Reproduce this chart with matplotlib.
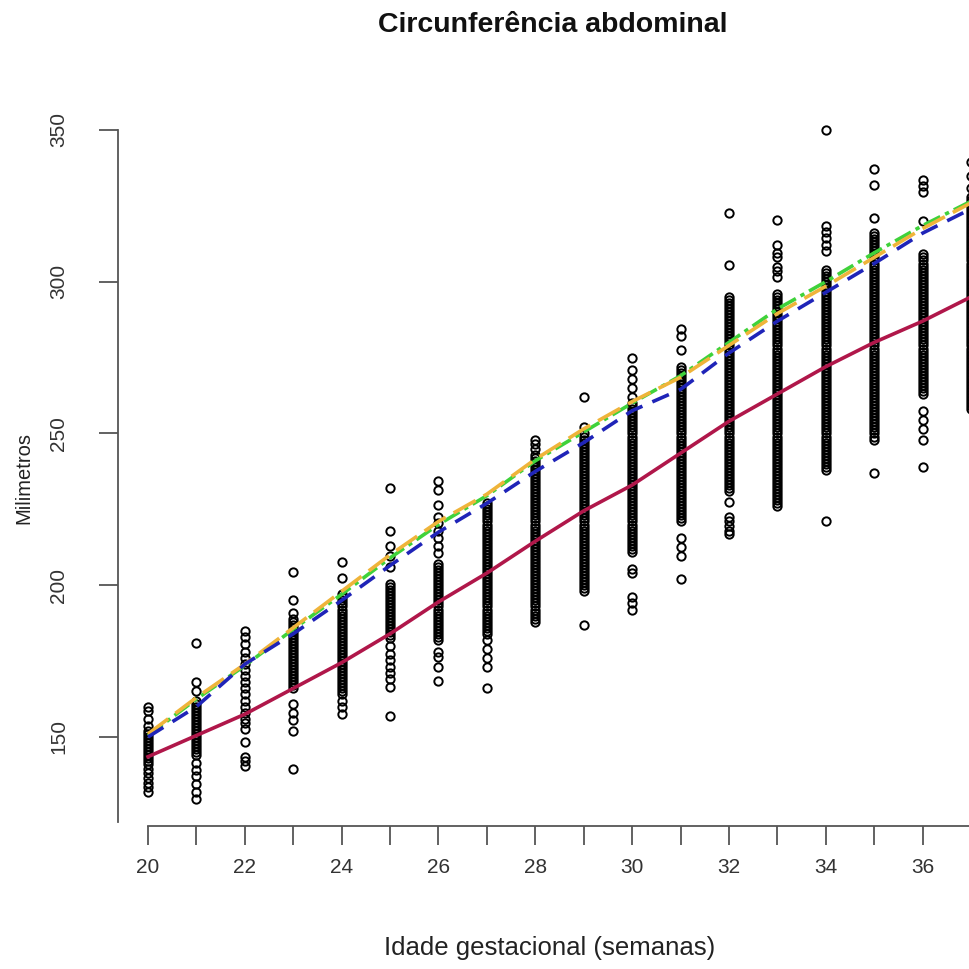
import numpy as np
import matplotlib.pyplot as plt

plt.rcParams['font.family'] = ['Liberation Sans', 'DejaVu Sans']

# observed abdominal circumference (mm) per gestational week
w20 = [160, 158.5, 156, 153.5, 152, 151, 150, 149, 148, 147, 146, 145, 144, 143, 142, 141, 139.5, 138, 136.5, 135, 133.5, 132]
w21 = [181, 168, 165, 162, 161, 160, 159, 158, 157, 156, 155, 154, 153, 152, 151, 150, 149, 148, 147, 146, 145, 144,
       141.5, 139, 137, 134.5, 132, 129.5]
w22 = [185, 183, 180.5, 178, 176, 174, 172, 170, 168, 166, 164, 162, 160, 158, 156, 154.5, 152.5, 148.5, 143.5, 142, 140.5]
w23 = [204.5, 195, 191, 189, 188, 187, 186, 185, 184, 183, 182, 181, 180, 179, 178, 177, 176, 175, 174, 173, 172, 171,
       170, 169, 168, 167, 166, 161, 158, 155.5, 152, 139.5]
w24 = [207.5, 202.5, 197, 196, 195, 194, 193, 192, 191, 190, 189, 188, 187, 186, 185, 184, 183, 182, 181, 180, 179, 178,
       177, 176, 175, 174, 173, 172, 171, 170, 169, 168, 167, 166, 165, 164, 162, 160, 157.5]
w25 = [232, 218, 213, 209.5, 206, 200.5, 199.5, 198.5, 197.5, 196.5, 195.5, 194.5, 193.5, 192.5, 191.5, 190.5, 189.5,
       188.5, 187.5, 186.5, 185.5, 184.5, 183.5, 182.5, 180, 177.5, 175.5, 173, 171, 169, 166.5, 157]
w26 = [234.5, 231.5, 226.5, 222.5, 220.5, 218, 215.5, 213, 210.5, 207, 206, 205, 204, 203, 202, 201, 200, 199, 198,
       197, 196, 195, 194, 193, 192, 191, 190, 189, 188, 187, 186, 185, 184, 183, 182, 178, 176.5, 173, 168.5]
w27 = [227, 226, 225, 224, 223, 222, 221, 220, 219, 218, 217, 216, 215, 214, 213, 212, 211, 210, 209, 208, 207, 206,
       205, 204, 203, 202, 201, 200, 199, 198, 197, 196, 195, 194, 193, 192, 191, 190, 189, 188, 187, 186, 185, 184,
       182, 179, 176, 173, 166]
w28 = [248, 246.5, 245, 243, 242, 241, 240, 239, 238, 237, 236, 235, 234, 233, 232, 231, 230, 229, 228, 227, 226, 225,
       224, 223, 222, 221, 220, 219, 218, 217, 216, 215, 214, 213, 212, 211, 210, 209, 208, 207, 206, 205, 204, 203,
       202, 201, 200, 199, 198, 197, 196, 195, 194, 193, 192, 191, 190, 189, 188]
w29 = [262, 252, 250, 249, 248, 247, 246, 245, 244, 243, 242, 241, 240, 239, 238, 237, 236, 235, 234, 233, 232, 231,
       230, 229, 228, 227, 226, 225, 224, 223, 222, 221, 220, 219, 218, 217, 216, 215, 214, 213, 212, 211, 210, 209,
       208, 207, 206, 205, 204, 203, 202, 201, 200, 199, 198, 187]
w30 = [275, 271, 268, 265, 262, 260, 259, 258, 257, 256, 255, 254, 253, 252, 251, 250, 249, 248, 247, 246, 245, 244,
       243, 242, 241, 240, 239, 238, 237, 236, 235, 234, 233, 232, 231, 230, 229, 228, 227, 226, 225, 224, 223, 222,
       221, 220, 219, 218, 217, 216, 215, 214, 213, 212, 211, 205.5, 204, 196, 194, 192]
w31 = [284.5, 282, 277.5, 272, 271, 270, 269, 268, 267, 266, 265, 264, 263, 262, 261, 260, 259, 258, 257, 256, 255,
       254, 253, 252, 251, 250, 249, 248, 247, 246, 245, 244, 243, 242, 241, 240, 239, 238, 237, 236, 235, 234, 233,
       232, 231, 230, 229, 228, 227, 226, 225, 224, 223, 222, 221, 215.5, 212.5, 209.5, 202]
w32 = [322.5, 305.5, 295, 294, 293, 292, 291, 290, 289, 288, 287, 286, 285, 284, 283, 282, 281, 280, 279, 278, 277,
       276, 275, 274, 273, 272, 271, 270, 269, 268, 267, 266, 265, 264, 263, 262, 261, 260, 259, 258, 257, 256, 255,
       254, 253, 252, 251, 250, 249, 248, 247, 246, 245, 244, 243, 242, 241, 240, 239, 238, 237, 236, 235, 234, 233,
       232, 231, 227.5, 222.5, 221, 219.5, 218, 217]
w33 = [320.5, 312, 309.5, 308, 305, 303.5, 301.5, 296, 295, 294, 293, 292, 291, 290, 289, 288, 287, 286, 285, 284,
       283, 282, 281, 280, 279, 278, 277, 276, 275, 274, 273, 272, 271, 270, 269, 268, 267, 266, 265, 264, 263, 262,
       261, 260, 259, 258, 257, 256, 255, 254, 253, 252, 251, 250, 249, 248, 247, 246, 245, 244, 243, 242, 241, 240,
       239, 238, 237, 236, 235, 234, 233, 232, 231, 230, 229, 228, 227, 226]
w34 = [350, 318.5, 316.5, 314.5, 312, 310, 304, 303, 302, 301, 300, 299, 298, 297, 296, 295, 294, 293, 292, 291, 290,
       289, 288, 287, 286, 285, 284, 283, 282, 281, 280, 279, 278, 277, 276, 275, 274, 273, 272, 271, 270, 269, 268,
       267, 266, 265, 264, 263, 262, 261, 260, 259, 258, 257, 256, 255, 254, 253, 252, 251, 250, 249, 248, 247, 246,
       245, 244, 243, 242, 241, 240, 239, 238, 221]
w35 = [337, 332, 321, 316, 315, 314, 313, 312, 311, 310, 309, 308, 307, 306, 305, 304, 303, 302, 301, 300, 299, 298,
       297, 296, 295, 294, 293, 292, 291, 290, 289, 288, 287, 286, 285, 284, 283, 282, 281, 280, 279, 278, 277, 276,
       275, 274, 273, 272, 271, 270, 269, 268, 267, 266, 265, 264, 263, 262, 261, 260, 259, 258, 257, 256, 255, 254,
       253, 252, 251, 250, 249, 248, 237]
w36 = [333.5, 331.5, 329.5, 320, 309, 308, 307, 306, 305, 304, 303, 302, 301, 300, 299, 298, 297, 296, 295, 294, 293,
       292, 291, 290, 289, 288, 287, 286, 285, 284, 283, 282, 281, 280, 279, 278, 277, 276, 275, 274, 273, 272, 271,
       270, 269, 268, 267, 266, 265, 264, 263, 257.5, 254.5, 251.5, 248, 239]
w37 = [339.5, 335, 331, 328, 327, 326, 325, 324, 323, 322, 321, 320, 319, 318, 317, 316, 315, 314, 313, 312, 311, 310,
       309, 308, 307, 306, 305, 304, 303, 302, 301, 300, 299, 298, 297, 296, 295, 294, 293, 292, 291, 290, 289, 288,
       287, 286, 285, 284, 283, 282, 281, 280, 279, 278, 277, 276, 275, 274, 273, 272, 271, 270, 269, 268, 267, 266,
       265, 264, 263, 262, 261, 260, 259, 258]

semanas = [20, 21, 22, 23, 24, 25, 26, 27, 28, 29, 30, 31, 32, 33, 34, 35, 36, 37]
obs = [w20, w21, w22, w23, w24, w25, w26, w27, w28, w29, w30, w31, w32, w33, w34, w35, w36, w37]

# fitted curves
curva_vermelha = [143.5, 150.5, 157.5, 166, 174.5, 184, 194.5, 204, 214.5, 224.5, 233, 243.5, 254, 263, 272, 280, 287, 295]
curva_verde = [150.5, 162.5, 173.5, 185.5, 197, 209, 220, 229.5, 241, 250.5, 260, 269, 280, 291, 300, 309.5, 318.5, 326.5]
curva_laranja = [151, 163, 174, 186, 198, 210, 221, 230, 241.5, 251.5, 260.5, 268.5, 279, 289.5, 298.5, 308, 317.5, 326]
curva_azul = [150, 160, 174, 184, 195, 206.5, 217.5, 227, 237.5, 247, 257.5, 264.5, 276.5, 287, 296.5, 306, 316, 324]

W, H = 970, 969
fig = plt.figure(figsize=(W / 100, H / 100), dpi=100)
# axes runs past the right edge of the picture, like the cropped original
ax = fig.add_axes([118 / W, (H - 826) / H, 882 / W, 726 / H])

xs = np.concatenate([[s] * len(v) for s, v in zip(semanas, obs)])
ys = np.concatenate(obs)
ax.plot(xs, ys, 'o', ms=6, mfc='none', mec='black', mew=1.4, clip_on=False)

ax.plot(semanas, curva_vermelha, color='#b0174a', lw=2.6)
ax.plot(semanas, curva_verde, color='#3fd23a', lw=2.6, dashes=(5, 1.5, 1.2, 1.5))
ax.plot(semanas, curva_laranja, color='#efb43a', lw=2.6, dashes=(7, 2.5))
ax.plot(semanas, curva_azul, color='#1f24b8', lw=2.6, dashes=(5, 3))

ax.set_xlim(19.380, 37.600)
ax.set_ylim(120.67, 359.88)
ax.set_xticks(range(20, 38))
ax.set_xticklabels([str(s) if s % 2 == 0 else '' for s in range(20, 38)])
ax.set_yticks([150, 200, 250, 300, 350])
ax.set_yticklabels(['150', '200', '250', '300', '350'], rotation=90, va='center')

for s in ['top', 'right']:
    ax.spines[s].set_visible(False)
for s in ['left', 'bottom']:
    ax.spines[s].set_color('#555555')
    ax.spines[s].set_linewidth(1.3)
ax.spines['left'].set_bounds(122, 350)
ax.spines['bottom'].set_bounds(20, 37.6)
ax.tick_params(axis='both', colors='#555555', width=1.3, length=14, labelsize=15, labelcolor='#333333')
ax.tick_params(axis='x', pad=9)
ax.tick_params(axis='y', pad=22)

fig.text(553 / W, 1 - 25 / H, 'Circunferência abdominal', ha='center', va='center',
         fontsize=20.5, fontweight='bold', color='#111111')
fig.text(550 / W, 1 - 948 / H, 'Idade gestacional (semanas)', ha='center', va='center',
         fontsize=18.5, color='#222222')
fig.text(24 / W, 1 - 478 / H, 'Milimetros', ha='center', va='center', rotation=90,
         fontsize=14.5, color='#222222')

fig.savefig('out.png', dpi=100)
